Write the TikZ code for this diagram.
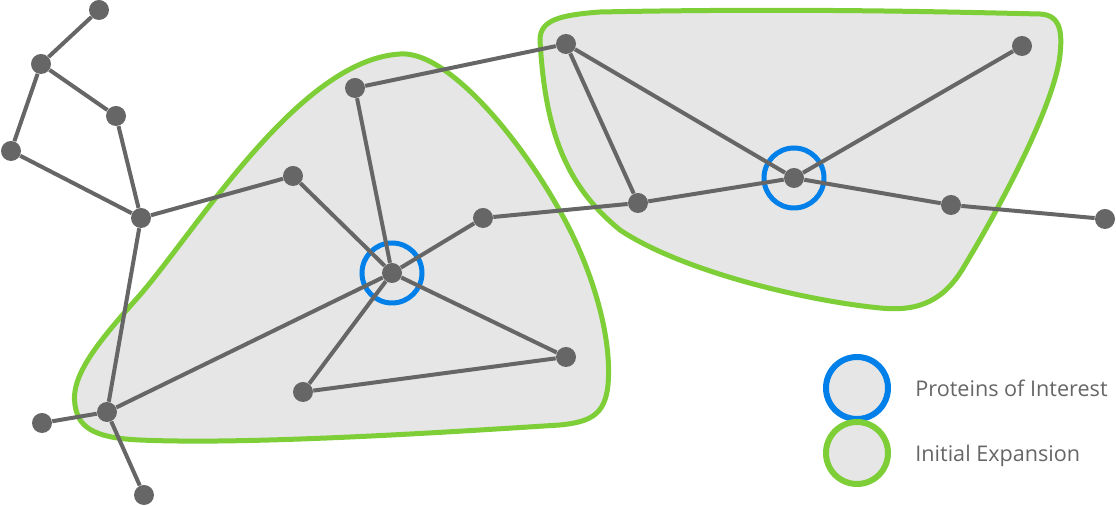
\documentclass[tikz,border=0pt]{standalone}
\usepackage{fontspec}
\setmainfont{Open Sans}
\usetikzlibrary{positioning}
\definecolor{linkgray}{RGB}{102,102,102}
\definecolor{blobgray}{RGB}{230,230,230}
\definecolor{expgreen}{RGB}{125,206,55}
\definecolor{poiblue}{RGB}{0,128,232}

\begin{document}
\begin{tikzpicture}[
    x=0.5pt, y=-0.5pt,
    every node/.style={font=\fontsize{10.8}{12}\selectfont, text=linkgray},
    protein/.style={circle, fill=linkgray, minimum size=10pt, inner sep=0pt},
    poi/.style={circle, draw=poiblue, line width=2.5pt, minimum size=30pt, inner sep=0pt},
    link/.style={draw=linkgray, line width=2pt},
    expansion/.style={fill=blobgray, draw=expgreen, line width=2.5pt},
    legendring/.style={circle, fill=blobgray, line width=3pt, minimum size=31pt, inner sep=0pt}
]
\useasboundingbox (0,0) rectangle (1116,506);

% Initial expansion areas
\draw[expansion] (75,405) .. controls (70,375) and (100,340) .. (140,295)
    .. controls (200,225) and (300,60) .. (400,54)
    .. controls (450,50) and (530,150) .. (570,230)
    .. controls (595,280) and (612,340) .. (608,385)
    .. controls (605,415) and (590,422) .. (560,425)
    .. controls (450,432) and (250,445) .. (140,440)
    .. controls (90,438) and (78,425) .. (75,405) -- cycle;
\draw[expansion] (540,40) .. controls (540,20) and (560,15) .. (600,12)
    .. controls (800,8) and (950,12) .. (1040,14)
    .. controls (1062,15) and (1062,35) .. (1060,55)
    .. controls (1055,100) and (1010,190) .. (965,265)
    .. controls (945,300) and (920,312) .. (880,308)
    .. controls (800,300) and (680,270) .. (620,230)
    .. controls (565,185) and (545,130) .. (540,40) -- cycle;

% Proteins of interest
\node[poi] (ring1) at (392,273) {};
\node[poi] (ring2) at (794,178) {};

% Proteins
\foreach \n/\x/\y in {a1/99/10, a2/41/64, a3/116/116, a4/11/151, a5/141/218,
    a6/293/176, a7/355/88, a8/392/273, a9/483/218, a10/566/357, a11/303/392,
    a12/107/412, a13/42/423, a14/144/495, b1/566/44, b2/1022/46, b3/794/178,
    b4/638/203, b5/951/205, b6/1105/219} {
    \node[protein] (\n) at (\x,\y) {};
}

% Interactions
\foreach \s/\t in {a1/a2, a2/a3, a2/a4, a3/a5, a4/a5, a5/a6, a5/a12, a6/a8,
    a7/a8, a7/b1, a8/a9, a8/a10, a8/a11, a8/a12, a10/a11, a12/a13, a12/a14,
    a9/b4, b4/b3, b1/b4, b1/b3, b3/b2, b3/b5, b5/b6} {
    \draw[link] (\s) -- (\t);
}

% Legend
\node[legendring, draw=poiblue] (legpoi) at (857,388) {};
\node[legendring, draw=expgreen] (legexp) at (857,453) {};
\node[anchor=base west, inner sep=0pt] (poitext) at (915,397) {Proteins of Interest};
\node[anchor=base west, inner sep=0pt] (exptext) at (915,462) {Initial Expansion};

\end{tikzpicture}
\end{document}
